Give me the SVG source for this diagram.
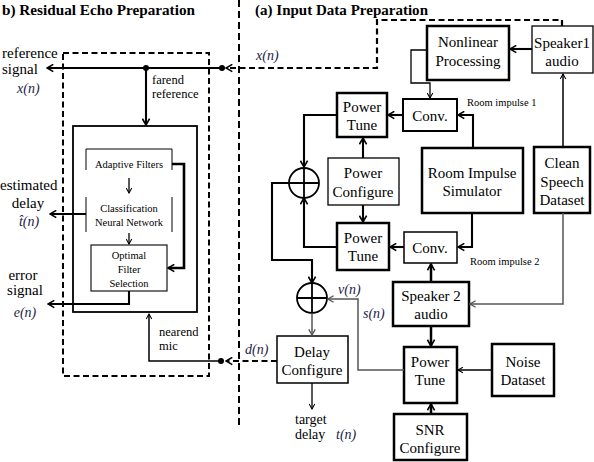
<svg xmlns="http://www.w3.org/2000/svg" width="594" height="462" viewBox="0 0 594 462" font-family="Liberation Serif, DejaVu Serif, serif">
<defs>
<marker id="ah" viewBox="0 0 10 10" refX="9" refY="5" markerWidth="9" markerHeight="9" markerUnits="userSpaceOnUse" orient="auto">
<path d="M2,1 L9,5 L2,9" fill="none" stroke="#000" stroke-width="1.8"/>
</marker>
<marker id="ahs" viewBox="0 0 10 10" refX="9" refY="5" markerWidth="7" markerHeight="7" markerUnits="userSpaceOnUse" orient="auto">
<path d="M2,1 L9,5 L2,9" fill="none" stroke="#000" stroke-width="1.5"/>
</marker>
<marker id="ahg" viewBox="0 0 10 10" refX="9" refY="5" markerWidth="8" markerHeight="8" markerUnits="userSpaceOnUse" orient="auto">
<path d="M2,1 L9,5 L2,9" fill="none" stroke="#555" stroke-width="1.6"/>
</marker>
</defs>
<style>
text{fill:#000}
.t{font-size:15px;text-anchor:middle}
.s{font-size:10.5px;text-anchor:middle}
.l{font-size:15px}
.m{font-size:12.5px}
.i{font-style:italic;font-size:14px;fill:#1c1c48}
.h{font-weight:bold;font-size:15px}
.bx{fill:#fff;stroke:#000;stroke-width:2.5}
.bt{fill:#fff;stroke:#000;stroke-width:1.3}
.ln{fill:none;stroke:#000;stroke-width:2.1}
.th{fill:none;stroke:#000;stroke-width:1.3}
.gr{fill:none;stroke:#555;stroke-width:1.5}
.da{fill:none;stroke:#000;stroke-width:2.2;stroke-dasharray:6,3.5}
</style>
<rect width="594" height="462" fill="#fff"/>

<g id="titles">
<text class="h" x="2" y="15" textLength="193" lengthAdjust="spacingAndGlyphs">b) Residual  Echo Preparation</text>
<text class="h" x="255" y="15" textLength="173" lengthAdjust="spacingAndGlyphs">(a) Input  Data Preparation</text>
</g>

<g id="dividers">
<line x1="239" y1="0" x2="239" y2="425" stroke="#000" stroke-width="2" stroke-dasharray="7,4"/>
<rect x="63" y="53" width="146" height="323" fill="none" stroke="#000" stroke-width="2" stroke-dasharray="6,3.5"/>
</g>

<g id="residual-block">
<rect x="73" y="126" width="124" height="186" fill="none" stroke="#000" stroke-width="1.8"/>
</g>
<g id="adaptive-filters">
<path d="M86,170 V149 H172 V170" fill="none" stroke="#000" stroke-width="1"/>
<text class="s" x="129" y="168">Adaptive  Filters</text>
</g>
<g id="classification-nn">
<path d="M86,197 V232 M172,197 V232" fill="none" stroke="#000" stroke-width="1"/>
<text class="s" x="129" y="212">Classification</text>
<text class="s" x="129" y="226">Neural  Network</text>
</g>
<g id="optimal-filter">
<rect x="91" y="245" width="76" height="46" fill="#fff" stroke="#000" stroke-width="1.1"/>
<text class="s" x="129" y="259">Optimal</text>
<text class="s" x="129" y="273">Filter</text>
<text class="s" x="129" y="287">Selection</text>
</g>

<g id="nonlinear"><rect class="bx" x="427" y="26" width="82" height="54"/><text class="t" x="468" y="47">Nonlinear</text><text class="t" x="468" y="66">Processing</text></g>
<g id="speaker1"><rect class="bt" x="532" y="26" width="61" height="47"/><text class="t" x="562" y="48">Speaker1</text><text class="t" x="562" y="66">audio</text></g>
<g id="conv1"><rect x="403" y="99" width="54" height="32" fill="#fff" stroke="#000" stroke-width="2"/><text class="t" x="430" y="121">Conv.</text></g>
<g id="powertune1"><rect class="bx" x="337" y="93" width="50" height="44"/><text class="t" x="362" y="112">Power</text><text class="t" x="362" y="130">Tune</text></g>
<g id="ris"><rect class="bx" x="422" y="148" width="101" height="65"/><text class="t" x="472" y="178">Room Impulse</text><text class="t" x="472" y="196">Simulator</text></g>
<g id="clean"><rect class="bx" x="534" y="147" width="56" height="66"/><text class="t" x="562" y="168">Clean</text><text class="t" x="562" y="187">Speech</text><text class="t" x="562" y="205">Dataset</text></g>
<g id="powerconfigure"><rect class="bt" x="328" y="158" width="71" height="47"/><text class="t" x="363" y="178">Power</text><text class="t" x="363" y="197">Configure</text></g>
<g id="powertune2"><rect class="bx" x="337" y="223" width="52" height="47"/><text class="t" x="363" y="243">Power</text><text class="t" x="363" y="261">Tune</text></g>
<g id="conv2"><rect x="404" y="232" width="53" height="31" fill="#fff" stroke="#000" stroke-width="1.5"/><text class="t" x="430" y="253">Conv.</text></g>
<g id="speaker2"><rect class="bx" x="393" y="282" width="76" height="44"/><text class="t" x="431" y="301">Speaker  2</text><text class="t" x="431" y="319">audio</text></g>
<g id="powertune3"><rect class="bx" x="404" y="347" width="53" height="56"/><text class="t" x="430" y="367">Power</text><text class="t" x="430" y="385">Tune</text></g>
<g id="noise"><rect class="bx" x="492" y="344" width="62" height="52"/><text class="t" x="523" y="367">Noise</text><text class="t" x="523" y="385">Dataset</text></g>
<g id="snr"><rect class="bx" x="394" y="414" width="73" height="46"/><text class="t" x="430" y="435">SNR</text><text class="t" x="430" y="453">Configure</text></g>
<g id="delay"><rect x="277" y="336" width="71" height="47" fill="#fff" stroke="#000" stroke-width="1.5"/><text class="t" x="312" y="357">Delay</text><text class="t" x="312" y="375">Configure</text></g>
<g id="sum1"><circle cx="304" cy="183" r="15" fill="none" stroke="#000" stroke-width="1.8"/><path d="M289,183 H319 M304,168 V198" stroke="#000" stroke-width="1.8"/></g>
<g id="sum2"><circle cx="312" cy="298" r="15" fill="none" stroke="#000" stroke-width="1.8"/><path d="M297,298 H327 M312,283 V313" stroke="#000" stroke-width="1.8"/></g>

<g id="connectors">
<line class="ln" x1="222" y1="68" x2="47" y2="68" marker-end="url(#ah)"/>
<line class="ln" x1="146" y1="68" x2="146" y2="125" marker-end="url(#ah)"/>
<path class="da" d="M562,26 V20 H377 V68 H226" marker-end="url(#ah)"/>
<path d="M172,164 H184 V268 H168" fill="none" stroke="#000" stroke-width="2.6" marker-end="url(#ah)"/>
<line class="th" x1="129" y1="178" x2="129" y2="193" marker-end="url(#ahs)"/>
<line class="th" x1="129" y1="233" x2="129" y2="244" marker-end="url(#ahs)"/>
<line class="ln" x1="86" y1="214" x2="50" y2="214" marker-end="url(#ah)"/>
<path class="ln" d="M129,291 V304 H48" marker-end="url(#ah)"/>
<path d="M221,361 H149 V314" fill="none" stroke="#000" stroke-width="1.5" marker-end="url(#ahs)"/>
<line class="da" x1="277" y1="361" x2="226" y2="361" marker-end="url(#ah)"/>
<circle cx="146" cy="68" r="3"/>
<circle cx="222" cy="68" r="3"/>
<circle cx="221" cy="361" r="3"/>
<line class="ln" x1="532" y1="49" x2="510" y2="49" marker-end="url(#ah)"/>
<path class="th" d="M427,50 H411 V83 H430 V98" marker-end="url(#ahs)"/>
<line class="ln" x1="403" y1="115" x2="388" y2="115" marker-end="url(#ah)"/>
<path class="ln" d="M473,148 V115 H458" marker-end="url(#ah)"/>
<line x1="563" y1="147" x2="563" y2="74" stroke="#000" stroke-width="1.5" marker-end="url(#ahs)"/>
<line class="ln" x1="363" y1="158" x2="363" y2="138" marker-end="url(#ah)"/>
<line class="ln" x1="363" y1="205" x2="363" y2="222" marker-end="url(#ah)"/>
<path class="ln" d="M337,115 H304 V167" marker-end="url(#ah)"/>
<path class="ln" d="M337,247 H304 V198" marker-end="url(#ah)"/>
<line class="ln" x1="404" y1="247" x2="390" y2="247" marker-end="url(#ah)"/>
<path class="ln" d="M472,213 V247 H458" marker-end="url(#ah)"/>
<line x1="431" y1="282" x2="431" y2="264" stroke="#000" stroke-width="2.5" marker-end="url(#ah)"/>
<path class="gr" d="M563,213 V304 H470" marker-end="url(#ahg)"/>
<path class="ln" d="M289,183 H272 V260 H312 V283" marker-end="url(#ah)"/>
<line x1="431" y1="326" x2="431" y2="346" stroke="#000" stroke-width="2.5" marker-end="url(#ah)"/>
<line class="th" x1="492" y1="370" x2="458" y2="370" marker-end="url(#ahs)"/>
<line x1="431" y1="414" x2="431" y2="404" stroke="#000" stroke-width="2.5" marker-end="url(#ah)"/>
<path class="gr" d="M404,370 H358 V299 H328" marker-end="url(#ahg)"/>
<line class="gr" x1="312" y1="313" x2="312" y2="335" marker-end="url(#ahg)"/>
<line class="th" x1="312" y1="383" x2="312" y2="409" marker-end="url(#ahs)"/>
</g>

<g id="labels">
<text class="l" x="2" y="58">reference</text>
<text class="l" x="2" y="74">signal</text>
<text class="i" x="17" y="93">x(n)</text>
<text class="m" x="152" y="84">farend</text>
<text class="m" x="152" y="98">reference</text>
<text class="l" x="0" y="190">estimated</text>
<text class="l" x="28" y="208" text-anchor="middle">delay</text>
<text class="i" x="29" y="226" text-anchor="middle">t̂(n)</text>
<text class="l" x="23" y="280" text-anchor="middle">error</text>
<text class="l" x="25" y="295" text-anchor="middle">signal</text>
<text class="i" x="25" y="317" text-anchor="middle">e(n)</text>
<text class="m" x="159" y="336">nearend</text>
<text class="m" x="159" y="350">mic</text>
<text class="i" x="245" y="354">d(n)</text>
<text class="i" x="256" y="60">x(n)</text>
<text class="s" x="467" y="106" style="text-anchor:start">Room impulse  1</text>
<text class="s" x="470" y="265" style="text-anchor:start">Room impulse  2</text>
<text class="i" x="338" y="294">v(n)</text>
<text class="i" x="363" y="318">s(n)</text>
<text class="m" x="295" y="424" style="font-size:14px">target</text>
<text class="m" x="295" y="439" style="font-size:14px">delay</text>
<text class="i" x="336" y="439">t(n)</text>
</g>
</svg>
